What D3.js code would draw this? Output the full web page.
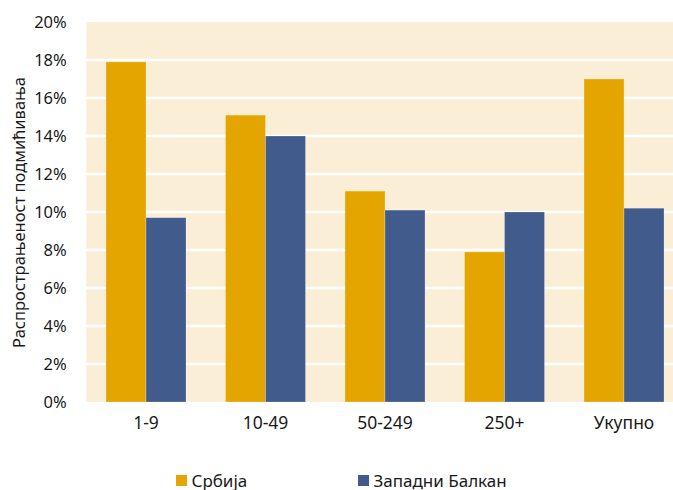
<!DOCTYPE html>
<html>
<head>
<meta charset="utf-8">
<script src="https://cdn.jsdelivr.net/npm/d3@7"></script>
<style>
  html, body { margin: 0; padding: 0; background: #ffffff; overflow: hidden; }
  svg { display: block; }
  text { font-family: "Noto Sans", "Open Sans", sans-serif; fill: #1a1a1a; }
</style>
</head>
<body>
<svg id="chart" width="673" height="490"></svg>
<script>
// Bribery prevalence by company size
const categories = ["1-9", "10-49", "50-249", "250+", "Укупно"];
const serbia = [17.9, 15.1, 11.1, 7.9, 17.0];
const westernBalkans = [9.7, 14.0, 10.1, 10.0, 10.2];
const seriesNames = ["Србија", "Западни Балкан"];
const seriesColors = ["#E5A500", "#425B8D"];
const yTicks = [0, 2, 4, 6, 8, 10, 12, 14, 16, 18, 20];
const yTitle = "Распрострањеност подмићивања";

const svg = d3.select("#chart");
const margin = { top: 22, left: 86.25 };
const iw = 597.5;           // plot runs past the right edge of the canvas
const ih = 380;

const g = svg.append("g").attr("transform", `translate(${margin.left},${margin.top})`);

const x = d3.scaleBand().domain(categories).range([0, iw]).paddingInner(0.3305).paddingOuter(0.16525);
const x1 = d3.scaleBand().domain([0, 1]).range([0, x.bandwidth()]).padding(0);
const y = d3.scaleLinear().domain([0, 20]).range([ih, 0]);

// plot background
g.append("rect").attr("x", 0).attr("y", 0).attr("width", iw).attr("height", ih).attr("fill", "#FAEED6");

// horizontal gridlines
g.selectAll("line.grid").data(yTicks.filter(t => t > 0 && t < 20)).enter().append("line")
  .attr("x1", 0).attr("x2", iw)
  .attr("y1", d => y(d)).attr("y2", d => y(d))
  .attr("stroke", "#ffffff").attr("stroke-width", 2.5);

// bars
const data = categories.map((c, i) => ({ c, vals: [serbia[i], westernBalkans[i]] }));
const groups = g.selectAll("g.cat").data(data).enter().append("g")
  .attr("transform", d => `translate(${x(d.c)},0)`);
groups.selectAll("rect").data(d => d.vals.map((v, k) => ({ v, k }))).enter().append("rect")
  .attr("x", d => x1(d.k))
  .attr("width", x1.bandwidth())
  .attr("y", d => y(d.v))
  .attr("height", d => ih - y(d.v))
  .attr("fill", d => seriesColors[d.k])
  .attr("stroke", "#ffffff").attr("stroke-opacity", 0.3).attr("stroke-width", 0.8);

// y axis
const yAxis = d3.axisLeft(y).tickValues(yTicks).tickFormat(d => d + "%").tickSize(0).tickPadding(19.5);
const ya = g.append("g").call(yAxis);
ya.select(".domain").remove();
ya.selectAll("text").style("font-size", "16.5px").attr("fill", "#1a1a1a")
  .style("font-family", "'Noto Sans', sans-serif");

// x axis
const xAxis = d3.axisBottom(x).tickSize(0).tickPadding(14.5);
const xa = g.append("g").attr("transform", `translate(0,${ih})`).call(xAxis);
xa.select(".domain").remove();
xa.selectAll("text").style("font-size", "17.5px").attr("fill", "#1a1a1a")
  .style("font-family", "'Noto Sans', sans-serif");

// y title
svg.append("text")
  .attr("transform", `translate(25,${margin.top + ih / 2 + 0.5}) rotate(-90)`)
  .attr("text-anchor", "middle")
  .style("font-size", "16.5px")
  .text(yTitle);

// legend
const legendX = [176, 358];
const legend = svg.selectAll("g.legend").data(seriesNames).enter().append("g")
  .attr("transform", (d, i) => `translate(${legendX[i]},475)`);
legend.append("rect").attr("width", 11).attr("height", 11).attr("fill", (d, i) => seriesColors[i]);
legend.append("text").attr("x", 15.5).attr("y", 11.5).style("font-size", "17px").text(d => d);
</script>
</body>
</html>
